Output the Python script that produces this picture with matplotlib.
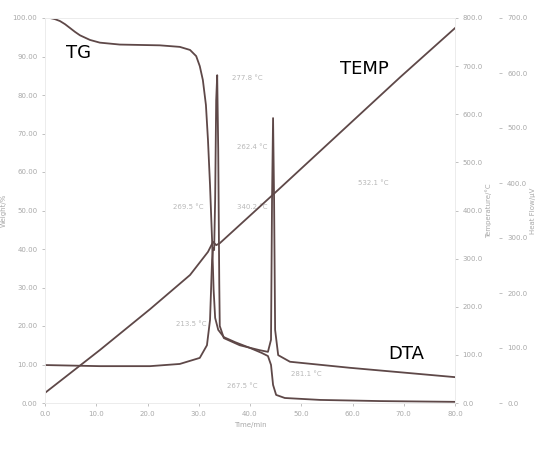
import matplotlib
matplotlib.use('Agg')
import matplotlib.pyplot as plt

# time axis (min)
tg_time = [0.0, 0.98, 1.95, 2.93, 3.9, 4.88, 5.85, 6.83, 8.78, 10.7, 14.6, 22.4,
           26.3, 28.3, 29.5, 30.2, 30.8, 31.4, 31.8, 32.2, 32.6, 32.9, 33.2,
           33.8, 34.9, 37.1, 40.0, 42.3, 43.5, 44.1, 44.5, 45.1, 46.8, 53.7,
           65.4, 80.0]
tg_weight = [100.0, 100.0, 99.7, 99.2, 98.4, 97.4, 96.4, 95.5, 94.3, 93.6, 93.1,
             92.9, 92.5, 91.7, 90.1, 87.5, 83.9, 77.4, 68.3, 56.6, 42.3, 29.4,
             22.1, 19.0, 17.1, 15.8, 14.3, 13.0, 12.2, 9.9, 4.7, 2.1, 1.3, 0.8,
             0.5, 0.3]

temp_time = [0.0, 10.7, 20.5, 28.3, 31.8, 32.8, 33.4, 34.1, 44.9, 69.3, 80.0]
temp_c = [21, 110, 195, 266, 314, 335, 328, 332, 437, 677, 779]

dta_time = [0.0, 10.7, 20.5, 26.3, 30.2, 31.6, 32.2, 32.6, 32.8, 33.0, 33.2,
            33.4, 33.6, 33.8, 34.0, 34.1, 34.9, 38.0, 41.9, 43.5, 44.1, 44.3,
            44.5, 44.7, 44.9, 45.5, 47.8, 59.5, 80.0]
dta_hf = [69, 67, 67, 71, 82, 105, 151, 260, 282, 278, 370, 550, 596, 460, 220,
          140, 118, 105, 96, 93, 115, 370, 518, 370, 133, 87, 75, 64, 47]

x_ticks = [0, 10, 20, 30, 40, 50, 60, 70, 80]
w_ticks = [0, 10, 20, 30, 40, 50, 60, 70, 80, 90, 100]
t_ticks = [0, 100, 200, 300, 400, 500, 600, 700, 800]
hf_ticks = [0, 100, 200, 300, 400, 500, 600, 700]

notes = [(36.5, 84, '277.8 °C'), (37.5, 66, '262.4 °C'), (25.0, 50.5, '269.5 °C'),
         (37.5, 50.5, '340.2 °C'), (61.0, 56.5, '532.1 °C'), (25.5, 20, '213.5 °C'),
         (35.5, 4.0, '267.5 °C'), (48.0, 7.0, '281.1 °C')]

line_c = '#5e4848'
tick_c = '#a8a8a8'

fig = plt.figure(figsize=(5.41, 4.5), dpi=100)
ax = fig.add_axes([45 / 541, 1 - 403 / 450, 410 / 541, 385 / 450])
ax2 = ax.twinx()
ax3 = ax.twinx()
ax3.spines['right'].set_position(('outward', 32))

ax.plot(tg_time, tg_weight, color=line_c, lw=1.3)
ax2.plot(temp_time, temp_c, color=line_c, lw=1.3)
ax3.plot(dta_time, dta_hf, color=line_c, lw=1.3)

ax.set_xlim(0, 80)
ax.set_ylim(0, 100)
ax2.set_ylim(0, 800)
ax3.set_ylim(0, 700)

ax.set_xticks(x_ticks)
ax.set_xticklabels(['%.1f' % v for v in x_ticks])
ax.set_yticks(w_ticks)
ax.set_yticklabels(['%.2f' % v for v in w_ticks])
ax2.set_yticks(t_ticks)
ax2.set_yticklabels(['%.1f' % v for v in t_ticks])
ax3.set_yticks(hf_ticks)
ax3.set_yticklabels(['%.1f' % v for v in hf_ticks])

for a in (ax, ax2, ax3):
    a.tick_params(labelsize=5, colors=tick_c, length=2, width=0.5)
    for s in a.spines.values():
        s.set_color('#ececec')
        s.set_linewidth(0.6)
ax3.spines['right'].set_visible(False)

ax.set_xlabel('Time/min', fontsize=5, color=tick_c)
ax.set_ylabel('Weight/%', fontsize=5, color=tick_c)
ax2.set_ylabel('Temperature/°C', fontsize=5, color=tick_c, labelpad=2)
ax3.set_ylabel('Heat Flow/μV', fontsize=5, color=tick_c, labelpad=2)

ax.text(4.0, 89.5, 'TG', fontsize=13, color='black')
ax.text(57.5, 85.5, 'TEMP', fontsize=13, color='black')
ax.text(67.0, 11.5, 'DTA', fontsize=13, color='black')
for x, y, s in notes:
    ax.text(x, y, s, fontsize=5, color='#b8b8b8')

fig.savefig('out.png', dpi=100)
